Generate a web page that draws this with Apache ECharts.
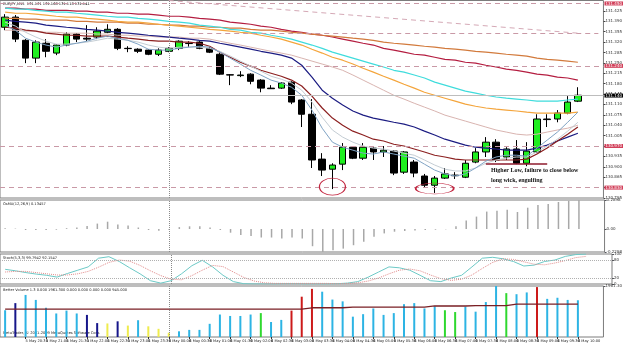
<!DOCTYPE html>
<html>
<head>
<meta charset="utf-8">
<script src="https://cdn.jsdelivr.net/npm/echarts@6/dist/echarts.min.js"></script>
<style>
  html, body { margin: 0; padding: 0; background: #fff; }
  #chart { width: 625px; height: 345px; }
</style>
</head>
<body>
<div id="chart"></div>
<script>
// 15 minute bars, 5 May 20:00 .. 6 May 10:00 (two empty slots = chart shift)
const times = [
  "5 May 20:00","5 May 20:15","5 May 20:30","5 May 20:45","5 May 21:00","5 May 21:15","5 May 21:30","5 May 21:45",
  "5 May 22:00","5 May 22:15","5 May 22:30","5 May 22:45","5 May 23:00","5 May 23:15","5 May 23:30","5 May 23:45",
  "6 May 00:00","6 May 00:15","6 May 00:30","6 May 00:45","6 May 01:00","6 May 01:15","6 May 01:30","6 May 01:45",
  "6 May 02:00","6 May 02:15","6 May 02:30","6 May 02:45","6 May 03:00","6 May 03:15","6 May 03:30","6 May 03:45",
  "6 May 04:00","6 May 04:15","6 May 04:30","6 May 04:45","6 May 05:00","6 May 05:15","6 May 05:30","6 May 05:45",
  "6 May 06:00","6 May 06:15","6 May 06:30","6 May 06:45","6 May 07:00","6 May 07:15","6 May 07:30","6 May 07:45",
  "6 May 08:00","6 May 08:15","6 May 08:30","6 May 08:45","6 May 09:00","6 May 09:15","6 May 09:30","6 May 09:45",
  "6 May 10:00"
]
const cats = times.concat(["", " "])

// [open, close, low, high]
const candles = [
  [131.370,131.404,131.360,131.414],[131.404,131.330,131.320,131.411],[131.326,131.266,131.249,131.330],[131.266,131.320,131.249,131.326],
  [131.316,131.289,131.269,131.330],[131.283,131.310,131.276,131.313],[131.310,131.347,131.306,131.353],[131.347,131.330,131.320,131.350],
  [131.333,131.330,131.323,131.377],[131.337,131.357,131.330,131.370],[131.353,131.363,131.350,131.380],[131.363,131.299,131.293,131.367],
  [131.299,131.298,131.286,131.306],[131.296,131.289,131.283,131.299],[131.293,131.279,131.276,131.296],[131.279,131.293,131.273,131.299],
  [131.289,131.299,131.286,131.303],[131.299,131.323,131.293,131.326],[131.316,131.315,131.303,131.323],[131.320,131.299,131.296,131.323],
  [131.299,131.286,131.283,131.303],[131.279,131.212,131.209,131.283],[131.210,131.209,131.175,131.212],[131.207,131.209,131.202,131.222],
  [131.212,131.188,131.178,131.215],[131.192,131.165,131.151,131.195],[131.165,131.163,131.162,131.175],[131.165,131.182,131.162,131.185],
  [131.185,131.118,131.111,131.188],[131.125,131.077,131.034,131.128],[131.077,130.923,130.896,131.128],[130.926,130.889,130.869,130.946],
  [130.892,130.906,130.825,130.912],[130.909,130.966,130.889,130.980],[130.966,130.929,130.926,130.970],[130.929,130.966,130.923,130.980],
  [130.963,130.950,130.923,130.966],[130.950,130.956,130.933,130.970],[130.953,130.879,130.872,130.956],[130.882,130.950,130.876,130.953],
  [130.916,130.879,130.865,130.923],[130.869,130.838,130.832,130.876],[130.838,130.862,130.812,130.869],[130.862,130.876,130.859,130.896],
  [130.870,130.872,130.859,130.882],[130.865,130.912,130.862,130.923],[130.916,130.950,130.912,130.963],[130.950,130.983,130.933,131.000],
  [130.983,130.923,130.916,130.993],[130.933,130.960,130.923,130.966],[130.960,130.912,130.909,130.990],[130.912,130.953,130.902,130.983],
  [130.950,131.061,130.946,131.077],[131.061,131.059,131.034,131.077],[131.061,131.081,131.050,131.091],[131.081,131.118,131.077,131.138],
  [131.121,131.141,131.118,131.168]
]

// moving averages on the price chart
const maFast = [131.377,131.360,131.333,131.320,131.310,131.303,131.310,131.316,131.323,131.333,131.340,131.333,131.326,131.313,131.296,131.293,131.293,131.299,131.303,131.306,131.303,131.286,131.266,131.246,131.225,131.209,131.192,131.182,131.168,131.141,131.091,131.030,130.983,130.966,130.956,130.946,130.943,130.950,130.943,130.936,130.929,130.909,130.889,130.876,130.869,130.876,130.896,130.919,130.933,130.939,130.939,130.936,130.963,130.990,131.017,131.050,131.084]
const maFast2 = [131.387,131.374,131.353,131.337,131.323,131.313,131.313,131.316,131.320,131.326,131.333,131.330,131.326,131.320,131.310,131.303,131.299,131.303,131.303,131.303,131.299,131.289,131.273,131.256,131.239,131.222,131.205,131.195,131.182,131.158,131.118,131.067,131.024,131.000,130.983,130.970,130.963,130.960,130.953,130.946,130.939,130.923,130.906,130.892,130.886,130.886,130.896,130.912,130.923,130.929,130.933,130.933,130.950,130.970,130.993,131.020,131.050]
const maMaroon = [131.370,131.367,131.360,131.357,131.350,131.347,131.343,131.343,131.340,131.340,131.340,131.337,131.333,131.330,131.326,131.323,131.323,131.320,131.320,131.316,131.306,131.286,131.269,131.252,131.239,131.225,131.215,131.205,131.192,131.172,131.138,131.098,131.064,131.040,131.020,131.007,130.993,130.987,130.976,130.970,130.960,130.950,130.939,130.933,130.926,130.923,130.923,130.923,130.923,130.923,130.923,130.926,130.943,130.963,130.987,131.010,131.034]
const maNavy = [131.394,131.390,131.387,131.384,131.377,131.374,131.370,131.367,131.363,131.360,131.357,131.353,131.350,131.347,131.343,131.340,131.337,131.333,131.330,131.326,131.323,131.316,131.310,131.303,131.296,131.289,131.283,131.276,131.266,131.242,131.202,131.158,131.131,131.108,131.088,131.074,131.064,131.057,131.050,131.044,131.034,131.020,131.007,130.993,130.983,130.973,130.966,130.963,130.960,130.956,130.956,130.956,130.963,130.973,130.987,131.000,131.013]
const maCyan = [131.434,131.431,131.431,131.427,131.424,131.421,131.421,131.417,131.414,131.411,131.407,131.404,131.404,131.400,131.397,131.394,131.390,131.387,131.384,131.377,131.374,131.370,131.363,131.360,131.353,131.350,131.343,131.337,131.330,131.320,131.310,131.299,131.286,131.276,131.266,131.256,131.246,131.236,131.225,131.219,131.209,131.199,131.185,131.175,131.165,131.155,131.148,131.141,131.135,131.131,131.128,131.125,131.121,131.121,131.121,131.125,131.128]
const maOrange = [131.421,131.417,131.417,131.414,131.411,131.407,131.404,131.404,131.400,131.397,131.394,131.390,131.387,131.387,131.384,131.380,131.377,131.374,131.370,131.367,131.363,131.360,131.357,131.353,131.350,131.343,131.337,131.330,131.320,131.310,131.296,131.283,131.269,131.259,131.246,131.232,131.219,131.205,131.192,131.178,131.165,131.151,131.141,131.131,131.121,131.111,131.104,131.098,131.094,131.091,131.088,131.084,131.081,131.081,131.081,131.081,131.084]
const maRosy = [131.360,131.360,131.357,131.357,131.353,131.353,131.350,131.350,131.350,131.347,131.347,131.343,131.343,131.340,131.340,131.337,131.337,131.337,131.333,131.333,131.330,131.323,131.316,131.310,131.303,131.296,131.289,131.283,131.276,131.266,131.256,131.246,131.236,131.225,131.209,131.192,131.175,131.158,131.141,131.128,131.114,131.101,131.088,131.074,131.064,131.054,131.044,131.034,131.024,131.017,131.010,131.007,131.010,131.017,131.024,131.030,131.040]
const maBrown = [131.400,131.400,131.397,131.397,131.394,131.394,131.394,131.390,131.390,131.387,131.387,131.387,131.384,131.384,131.380,131.380,131.377,131.377,131.374,131.374,131.370,131.370,131.367,131.367,131.363,131.360,131.360,131.357,131.353,131.350,131.347,131.343,131.340,131.337,131.333,131.330,131.326,131.320,131.316,131.313,131.310,131.306,131.303,131.299,131.296,131.293,131.289,131.286,131.283,131.279,131.276,131.273,131.266,131.262,131.259,131.256,131.252]
const maCrimson = [131.434,131.434,131.431,131.431,131.427,131.427,131.427,131.424,131.424,131.421,131.421,131.417,131.417,131.414,131.414,131.411,131.407,131.407,131.404,131.400,131.397,131.394,131.387,131.384,131.380,131.374,131.370,131.363,131.357,131.353,131.347,131.343,131.337,131.330,131.323,131.316,131.310,131.299,131.293,131.286,131.279,131.276,131.269,131.262,131.259,131.252,131.249,131.242,131.236,131.229,131.225,131.219,131.212,131.209,131.202,131.199,131.192]

// horizontal levels, trend line, bid
const levelPrices = [131.448, 131.350, 131.242, 130.966, 130.832]
const bidPrice = 131.141
const trendLine = [[16, 131.460], [56, 131.350]]
const markLowLine = [[47, 130.909], [53, 130.909]]
const circledLows = [[32, 130.833], [42, 130.827]]

// OsMA(12,26,9)
const osma = [0.008,0.004,-0.010,-0.010,-0.010,-0.007,0.008,0.015,0.031,0.054,0.073,0.046,0.035,0.015,-0.010,-0.017,-0.007,0.019,0.027,0.027,0.015,-0.010,-0.037,-0.061,-0.071,-0.085,-0.085,-0.095,-0.085,-0.095,-0.172,-0.2298,-0.213,-0.196,-0.162,-0.128,-0.078,-0.044,-0.027,-0.020,-0.014,-0.010,-0.007,-0.003,0.027,0.085,0.124,0.174,0.182,0.193,0.170,0.213,0.240,0.251,0.270,0.282,0.2898]

// Stoch(5,3,3)
const stochMain = [49,44,38,33,29,23,35,46,57,86,91,75,54,34,11,3,11,34,61,79,57,29,8,1,0,0,0,1,1,0,0,0,1,3,8,23,40,57,54,46,29,11,8,20,29,57,86,89,84,75,60,63,75,80,92,98,100]
const stochSignal = [40,42,42,38,34,30,30,34,42,56,72,80,76,62,44,28,16,14,28,46,62,58,40,22,10,4,2,2,2,2,2,2,1,2,4,10,20,34,46,50,44,30,18,12,16,30,52,72,84,82,74,66,64,70,78,88,92]

// Better Volume
const volume = [1029,1303,1618,1426,1125,905,1015,905,850,535,521,603,439,645,411,315,165,219,274,274,507,864,809,809,864,919,576,658,1015,1550,1851,1742,1440,1371,782,878,1097,850,919,1262,1303,1097,1179,1029,960,1166,974,1344,1961,1687,1646,1714,1920,1467,1509,1426,1413]
// n normal, x climax low, l low volume, c climax, h churn
const volType = ["n","x","n","n","n","n","n","n","x","x","l","x","l","n","l","l","l","n","n","n","n","n","n","n","n","h","n","n","c","c","c","n","n","n","n","n","n","n","n","n","n","n","n","h","h","n","n","n","n","h","n","n","c","n","n","n","n"]
const volAvg = [1069,1069,1069,1069,1069,1069,1069,1069,1069,1069,1069,1069,1069,1069,1069,1069,1069,1069,1069,1069,1069,1069,1069,1069,1069,1069,1069,1069,1069,1069,1124,1124,1124,1124,1152,1152,1152,1152,1152,1152,1152,1152,1193,1193,1193,1193,1207,1207,1207,1207,1262,1262,1262,1262,1262,1262,1262]

const volColors = { n: "#2db4e4", x: "#16168a", l: "#efec4e", c: "#cc1a1a", h: "#2fd82f" }

const chart = echarts.init(document.getElementById("chart"))

const font = "DejaVu Sans"
const gridBase = { left: -3.5, width: 615.5, show: true, borderColor: "#7c7c7c", borderWidth: 1 }
const sep = { xAxis: 16, lineStyle: { type: "dotted", color: "#8a8a8a", width: 1 }, label: { show: false } }

const hiddenX = (i) => ({
  type: "category", gridIndex: i, data: cats, boundaryGap: true,
  axisLine: { show: false }, axisTick: { show: false }, axisLabel: { show: false }, splitLine: { show: false }
})

const rightY = (i, extra) => Object.assign({
  type: "value", gridIndex: i, position: "right",
  axisLine: { show: false }, splitLine: { show: false },
  axisTick: { show: true, length: 2, lineStyle: { color: "#444" } },
  axisLabel: { fontSize: 4, color: "#333", margin: 2, fontFamily: font }
}, extra)

const maLine = (name, data, color, width) => ({
  name, type: "line", data, xAxisIndex: 0, yAxisIndex: 0,
  symbol: "none", lineStyle: { color, width: width || 1 }, silent: true
})

const levelLabel = {
  show: true, position: "end", distance: 1, fontSize: 4, color: "#fff",
  backgroundColor: "#d2405a", padding: [0, 1], fontFamily: font,
  formatter: (p) => p.value.toFixed(3)
}

const mainMarkLines = levelPrices.map((p, i) => {
  if (i === 1) return { yAxis: p, lineStyle: { opacity: 0 }, label: levelLabel }
  return { yAxis: p, lineStyle: { type: [5, 4], color: "#c999a6", width: 1 }, label: levelLabel }
})
mainMarkLines.push([
  { coord: [18, levelPrices[1]], lineStyle: { type: [5, 4], color: "#c999a6", width: 1 }, label: { show: false } },
  { coord: [58, levelPrices[1]] }
])
mainMarkLines.push([
  { coord: trendLine[0], lineStyle: { type: [5, 4], color: "#d5a9b6", width: 1 }, label: { show: false } },
  { coord: trendLine[1] }
])
mainMarkLines.push([
  { coord: markLowLine[0], lineStyle: { type: "solid", color: "#8e1a2c", width: 1.5 }, label: { show: false } },
  { coord: markLowLine[1] }
])
mainMarkLines.push({
  yAxis: bidPrice, lineStyle: { type: "solid", color: "#bdbdbd", width: 1 },
  label: Object.assign({}, levelLabel, { backgroundColor: "#000" })
})
mainMarkLines.push(sep)

const option = {
  animation: false,
  backgroundColor: "#fff",
  textStyle: { fontFamily: font },
  grid: [
    Object.assign({ top: 0.5, height: 197.5 }, gridBase),
    Object.assign({ top: 200, height: 52 }, gridBase),
    Object.assign({ top: 254, height: 30 }, gridBase),
    Object.assign({ top: 286, height: 51 }, gridBase)
  ],
  xAxis: [
    hiddenX(0), hiddenX(1), hiddenX(2),
    {
      type: "category", gridIndex: 3, data: cats, boundaryGap: true,
      axisLine: { show: false }, splitLine: { show: false },
      axisTick: { show: true, interval: 1, alignWithLabel: true, length: 2, lineStyle: { color: "#333" } },
      axisLabel: {
        show: true, interval: 1, fontSize: 3.6, color: "#222", align: "left", margin: 2, fontFamily: font,
        formatter: (v, i) => (i === 0 ? "5 May 2009" : v)
      }
    }
  ],
  yAxis: [
    rightY(0, {
      min: 130.795, max: 131.46, interval: 0.035,
      axisLabel: { fontSize: 4, color: "#333", margin: 2, fontFamily: font, showMaxLabel: false,
        formatter: (v) => v.toFixed(3) }
    }),
    rightY(1, {
      min: -0.2298, max: 0.2898,
      axisTick: { show: true, length: 2, customValues: [-0.2298, 0, 0.2898] },
      axisLabel: { fontSize: 4, color: "#333", margin: 2, fontFamily: font,
        customValues: [-0.2298, 0, 0.2898], formatter: (v) => (v === 0 ? "0.00" : v.toFixed(4)) }
    }),
    rightY(2, {
      min: 0, max: 100,
      axisTick: { show: true, length: 2, customValues: [0, 20, 80, 100] },
      axisLabel: { fontSize: 4, color: "#333", margin: 2, fontFamily: font, customValues: [0, 20, 80, 100] }
    }),
    rightY(3, {
      min: 0, max: 1961.3,
      axisTick: { show: true, length: 2, customValues: [1961.3] },
      axisLabel: { fontSize: 4, color: "#333", margin: 2, fontFamily: font, customValues: [1961.3],
        formatter: (v) => v.toFixed(2) }
    })
  ],
  series: [
    {
      name: "EURJPY", type: "candlestick", data: candles, xAxisIndex: 0, yAxisIndex: 0, barWidth: 7,
      itemStyle: { color: "#1fef1f", color0: "#000", borderColor: "#000", borderColor0: "#000", borderWidth: 1 },
      markLine: { symbol: ["none", "none"], silent: true, data: mainMarkLines },
      markPoint: {
        silent: true,
        data: [
          { coord: circledLows[0], symbol: "circle", symbolSize: [26, 17] },
          { coord: circledLows[1], symbol: "circle", symbolSize: [38, 11] }
        ],
        itemStyle: { color: "rgba(0,0,0,0)", borderColor: "#c2253f", borderWidth: 1 },
        label: { show: false }
      }
    },
    maLine("crimson", maCrimson, "#b41d40", 1.2),
    maLine("brown", maBrown, "#d27a3c", 1.2),
    maLine("cyan", maCyan, "#3fdcdc", 1.2),
    maLine("orange", maOrange, "#f4a53c", 1.2),
    maLine("rosy", maRosy, "#d9b4b0", 1),
    maLine("navy", maNavy, "#1c1c82", 1.2),
    maLine("maroon", maMaroon, "#8c2020", 1.2),
    maLine("fast2", maFast2, "#c4cdd4", 1),
    maLine("fast", maFast, "#7fa3c4", 1),
    {
      name: "OsMA", type: "bar", data: osma, xAxisIndex: 1, yAxisIndex: 1, barWidth: 1.5,
      itemStyle: { color: "#a8a8a8" }, silent: true,
      markLine: { symbol: ["none", "none"], silent: true, data: [sep] }
    },
    {
      name: "Stoch", type: "line", data: stochMain, xAxisIndex: 2, yAxisIndex: 2,
      symbol: "none", lineStyle: { color: "#6cc9c6", width: 1 }, silent: true,
      markLine: {
        symbol: ["none", "none"], silent: true,
        data: [
          { yAxis: 80, lineStyle: { type: "dotted", color: "#b0b0b0", width: 1 }, label: { show: false } },
          { yAxis: 20, lineStyle: { type: "dotted", color: "#b0b0b0", width: 1 }, label: { show: false } },
          sep
        ]
      }
    },
    {
      name: "Signal", type: "line", data: stochSignal, xAxisIndex: 2, yAxisIndex: 2,
      symbol: "none", lineStyle: { color: "#e08a8a", width: 1, type: "dotted" }, silent: true
    },
    {
      name: "Volume", type: "bar", xAxisIndex: 3, yAxisIndex: 3, barWidth: 2, silent: true,
      data: volume.map((v, i) => ({ value: v, itemStyle: { color: volColors[volType[i]] } })),
      markLine: { symbol: ["none", "none"], silent: true, data: [sep] }
    },
    {
      name: "VolAvg", type: "line", data: volAvg, xAxisIndex: 3, yAxisIndex: 3,
      symbol: "none", lineStyle: { color: "#7a1f24", width: 1.3 }, silent: true
    }
  ],
  graphic: [
    { type: "text", left: 3, top: 2, silent: true,
      style: { text: "EURJPY,M15  131.121 131.168 131.118 131.141", fill: "#000", fontSize: 3.6, fontFamily: font } },
    { type: "text", left: 3, top: 202, silent: true,
      style: { text: "OsMA(12,26,9) 0.13457", fill: "#222", fontSize: 3.6, fontFamily: font } },
    { type: "text", left: 3, top: 256, silent: true,
      style: { text: "Stoch(5,3,3) 99.7942 92.1547", fill: "#222", fontSize: 3.6, fontFamily: font } },
    { type: "text", left: 3, top: 288, silent: true,
      style: { text: "Better Volume 1.3 0.000 1961.300 0.000 0.000 0.000 0.000 945.000", fill: "#222", fontSize: 3.6, fontFamily: font } },
    { type: "text", left: 3, top: 331, silent: true,
      style: { text: "MetaTrader, \u00a9 2001-2009 MetaQuotes Software Corp.", fill: "#222", fontSize: 3.6, fontFamily: font } },
    { type: "text", left: 491, top: 167, silent: true,
      style: { text: "Higher Low, failure to close below", fill: "#111", fontSize: 6, fontFamily: "Liberation Serif", fontWeight: "bold" } },
    { type: "text", left: 491, top: 177, silent: true,
      style: { text: "long wick, engulfing", fill: "#111", fontSize: 6, fontFamily: "Liberation Serif", fontWeight: "bold" } }
  ]
}

chart.setOption(option)
</script>
</body>
</html>
